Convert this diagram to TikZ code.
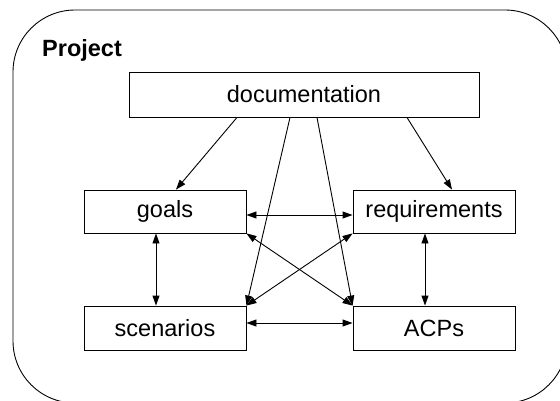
\documentclass[tikz,border=0pt]{standalone}
\usepackage{fontspec}
\setmainfont{Liberation Sans}
\usetikzlibrary{arrows.meta}
\begin{document}
\begin{tikzpicture}[x=1pt,y=-1pt,
  box/.style={draw, line width=0.9pt, inner sep=0pt, font=\fontsize{23.5}{28}\selectfont},
  link/.style={line width=0.9pt, -{Triangle[length=10pt,width=7pt]}},
  both/.style={line width=0.9pt, {Triangle[length=10pt,width=7pt]}-{Triangle[length=10pt,width=7pt]}}]
  \clip (0,0) rectangle (560,400);
  % outer project frame
  \draw[line width=0.9pt, rounded corners=62pt] (13,10) rectangle (567,403);
  \node[font=\fontsize{23.5}{28}\selectfont\bfseries, anchor=base west, inner sep=0pt] (proj) at (42,56) {Project};
  % artefact boxes
  \node[box, minimum width=350pt, minimum height=45pt] (doc) at (304,94.5) {documentation};
  \node[box, minimum width=162pt, minimum height=43pt] (goals) at (165,211.5) {goals};
  \node[box, minimum width=162pt, minimum height=43pt] (req) at (434,211.5) {requirements};
  \node[box, minimum width=162pt, minimum height=44pt] (scen) at (165,328) {scenarios};
  \node[box, minimum width=162pt, minimum height=44pt] (acps) at (434,328) {ACPs};
  % documentation feeds every artefact
  \draw[link] ([xshift=-67pt]doc.south) -- ([xshift=11pt]goals.north);
  \draw[link] ([xshift=103pt]doc.south) -- ([xshift=18pt]req.north);
  \draw[link] ([xshift=-14pt]doc.south) -- (scen.north east);
  \draw[link] ([xshift=13pt]doc.south) -- (acps.north west);
  % mutual relations
  \draw[both] ([yshift=-3.5pt]goals.east) -- ([yshift=-3.5pt]req.west);
  \draw[both] ([yshift=5pt]scen.east) -- ([yshift=5pt]acps.west);
  \draw[both] ([xshift=-9pt]goals.south) -- ([xshift=-9pt]scen.north);
  \draw[both] ([xshift=-9pt]req.south) -- ([xshift=-9pt]acps.north);
  \draw[both] (goals.south east) -- (acps.north west);
  \draw[both] (req.south west) -- (scen.north east);
\end{tikzpicture}
\end{document}
